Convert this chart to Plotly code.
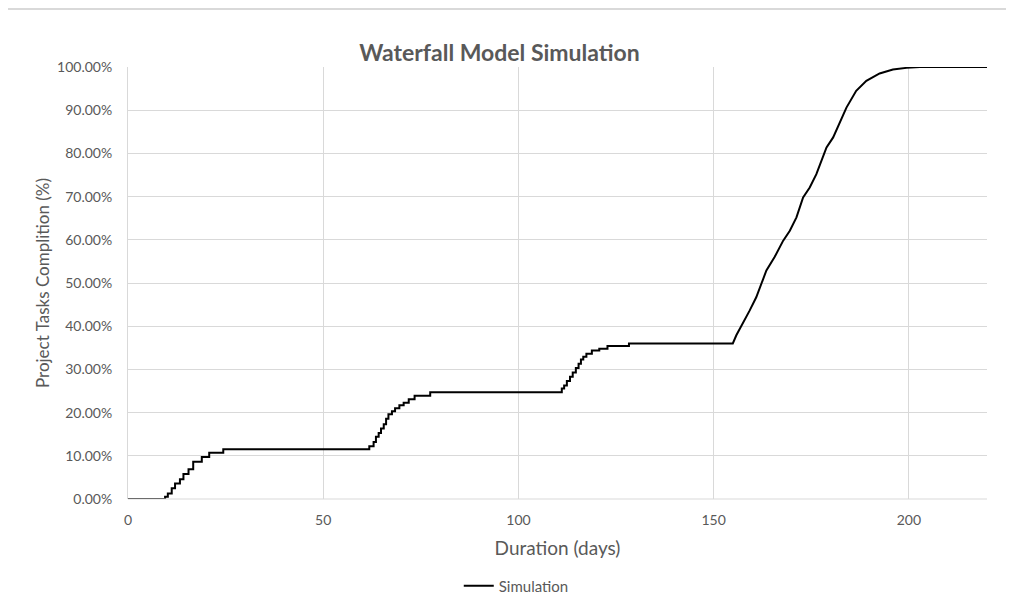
import plotly.graph_objects as go

# Stepped phases (day at which level starts, completion fraction)
step_days = [0, 9.5, 10.2, 11.2, 12.05, 13.3, 14.2, 15.5, 16.7, 18.9, 20.8, 24.4,
             61.8, 62.9, 63.5, 64.2, 64.8, 65.5, 66.1, 66.7, 67.6, 68.4, 69.5, 70.6, 71.9, 73.4, 77.4,
             111.1, 111.7, 112.4, 113.2, 113.9, 114.7, 115.4, 116.0, 116.6, 117.4, 118.8, 120.7, 122.8, 128.3]
step_pct = [0.0, 0.005, 0.013, 0.025, 0.036, 0.046, 0.058, 0.069, 0.086, 0.097, 0.107, 0.115,
            0.122, 0.132, 0.144, 0.153, 0.163, 0.173, 0.186, 0.196, 0.203, 0.210, 0.217, 0.223, 0.231, 0.239, 0.247,
            0.256, 0.263, 0.273, 0.283, 0.293, 0.303, 0.313, 0.323, 0.329, 0.336, 0.344, 0.348, 0.354, 0.360]

# Final S-curve phase
curve_days = [154.9, 155.8, 157.5, 159.2, 160.9, 162.2, 163.5, 165.6, 167.8, 169.5, 171.2, 172.9,
              174.6, 176.3, 177.6, 178.9, 180.6, 182.3, 184.0, 186.5, 189.1, 192.5, 195.9, 199.4, 202.8, 220.0]
curve_pct = [0.360, 0.379, 0.406, 0.436, 0.467, 0.498, 0.529, 0.560, 0.598, 0.621, 0.652, 0.698,
             0.721, 0.752, 0.783, 0.814, 0.837, 0.871, 0.906, 0.945, 0.968, 0.985, 0.994, 0.998, 1.0, 1.0]

series_name = "Simulation"
title_text = "Waterfall Model Simulation"
x_title = "Duration (days)"
y_title = "Project Tasks Complition (%)"

# expand step levels into horizontal-then-vertical coordinates
xs, ys = [], []
for i in range(len(step_days)):
    if i > 0:
        xs.append(step_days[i]); ys.append(step_pct[i - 1])
    xs.append(step_days[i]); ys.append(step_pct[i])
xs += curve_days
ys += curve_pct

grey = "#595959"
grid = "#d9d9d9"
font_family = "Lato, 'Open Sans', sans-serif"

fig = go.Figure()
fig.add_trace(go.Scatter(x=xs, y=ys, mode="lines", name=series_name,
                         line=dict(color="#000000", width=2), cliponaxis=False))

fig.update_layout(
    width=1014, height=608,
    margin=dict(l=120, r=35, t=59, b=117),
    paper_bgcolor="white", plot_bgcolor="white",
    font=dict(family=font_family, color=grey, size=14),
    title=dict(text="<b>" + title_text + "</b>", x=0.4847, xanchor="center",
               y=1 - 45 / 608, yanchor="middle",
               font=dict(size=23, color=grey, family=font_family)),
    showlegend=True,
    legend=dict(orientation="h", x=0.452, xanchor="center", y=-0.2014, yanchor="middle",
                font=dict(size=15, color=grey), itemwidth=30),
    xaxis=dict(range=[0, 220], tickvals=[0, 50, 100, 150, 200], showgrid=True,
               gridcolor=grid, gridwidth=1, zeroline=False, showline=False,
               ticks="", ticklabelstandoff=11, tickfont=dict(size=14),
               title=dict(text=x_title, font=dict(size=19, color=grey), standoff=14)),
    yaxis=dict(range=[0, 1], tickvals=[i / 10 for i in range(11)], tickformat=".2%",
               showgrid=True, gridcolor=grid, gridwidth=1, zeroline=False,
               showline=True, linecolor=grid, mirror=False,
               ticks="", ticklabelstandoff=12, tickfont=dict(size=14),
               title=dict(text=y_title, font=dict(size=17, color=grey), standoff=3)),
    shapes=[dict(type="line", xref="paper", yref="paper", x0=-0.141, x1=1.06,
                 y0=1.134, y1=1.134, line=dict(color=grid, width=2)),
            dict(type="line", xref="paper", yref="paper", x0=0, x1=1, y0=0, y1=0,
                 line=dict(color=grid, width=1))],
)

fig.write_html("out.html")
